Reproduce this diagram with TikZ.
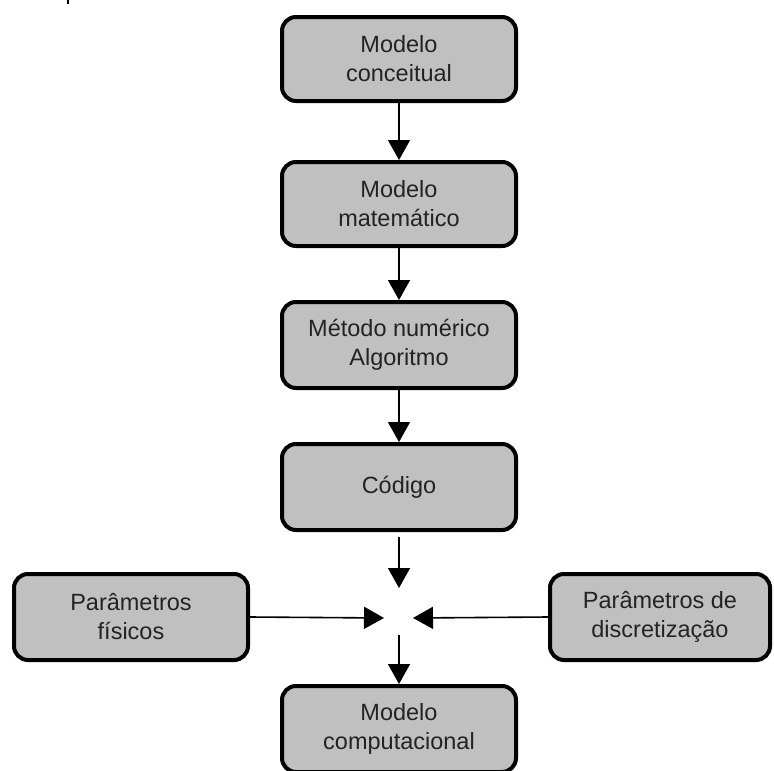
\documentclass[tikz,border=0pt]{standalone}
\usepackage{fontspec}
\setmainfont{Liberation Sans}
\usetikzlibrary{arrows.meta}
\definecolor{boxgray}{RGB}{192,192,192}
\definecolor{txt}{RGB}{35,35,35}
\tikzset{
  box/.style={draw=black, line width=4pt, fill=boxgray, rounded corners=14pt,
    align=center, text=txt, font=\fontsize{23.5}{29}\selectfont,
    minimum width=234pt, minimum height=84pt, inner sep=0pt},
  conn/.style={line width=1.6pt, -{Triangle[length=20pt,width=22pt]}}
}
\begin{document}
\begin{tikzpicture}[x=1pt,y=-1pt]
\useasboundingbox (0,0) rectangle (774,771);
\clip (0,0) rectangle (774,771);
\draw[line width=1.5pt] (68,0) -- (68,4);
\node[box] (c1) at (399,59) {Modelo\\conceitual};
\node[box] (c2) at (399,204) {Modelo\\matemático};
\node[box, minimum height=86pt] (c3) at (399,345) {Método numérico\\Algoritmo};
\node[box, minimum height=86pt] (c4) at (399,487) {Código};
\node[box, minimum height=86pt] (c5) at (399,729) {Modelo\\computacional};
\node[box, minimum height=86pt] (pf) at (131,617) {Parâmetros\\físicos};
\node[box, minimum height=86pt, minimum width=220pt] (pd) at (660,617) {Parâmetros de\\discretização};
\coordinate (J) at (399,618);
\draw[conn] (c1) -- (c2);
\draw[conn] (c2) -- (c3);
\draw[conn] (c3) -- (c4);
\draw[conn] ([yshift=-5pt]c4.south) -- ([yshift=30pt]J);
\draw[conn] (pf.east) -- ([xshift=-15pt]J);
\draw[conn] (pd.west) -- ([xshift=14pt]J);
\draw[conn] ([yshift=-17pt]J) -- (c5.north);
\end{tikzpicture}
\end{document}
